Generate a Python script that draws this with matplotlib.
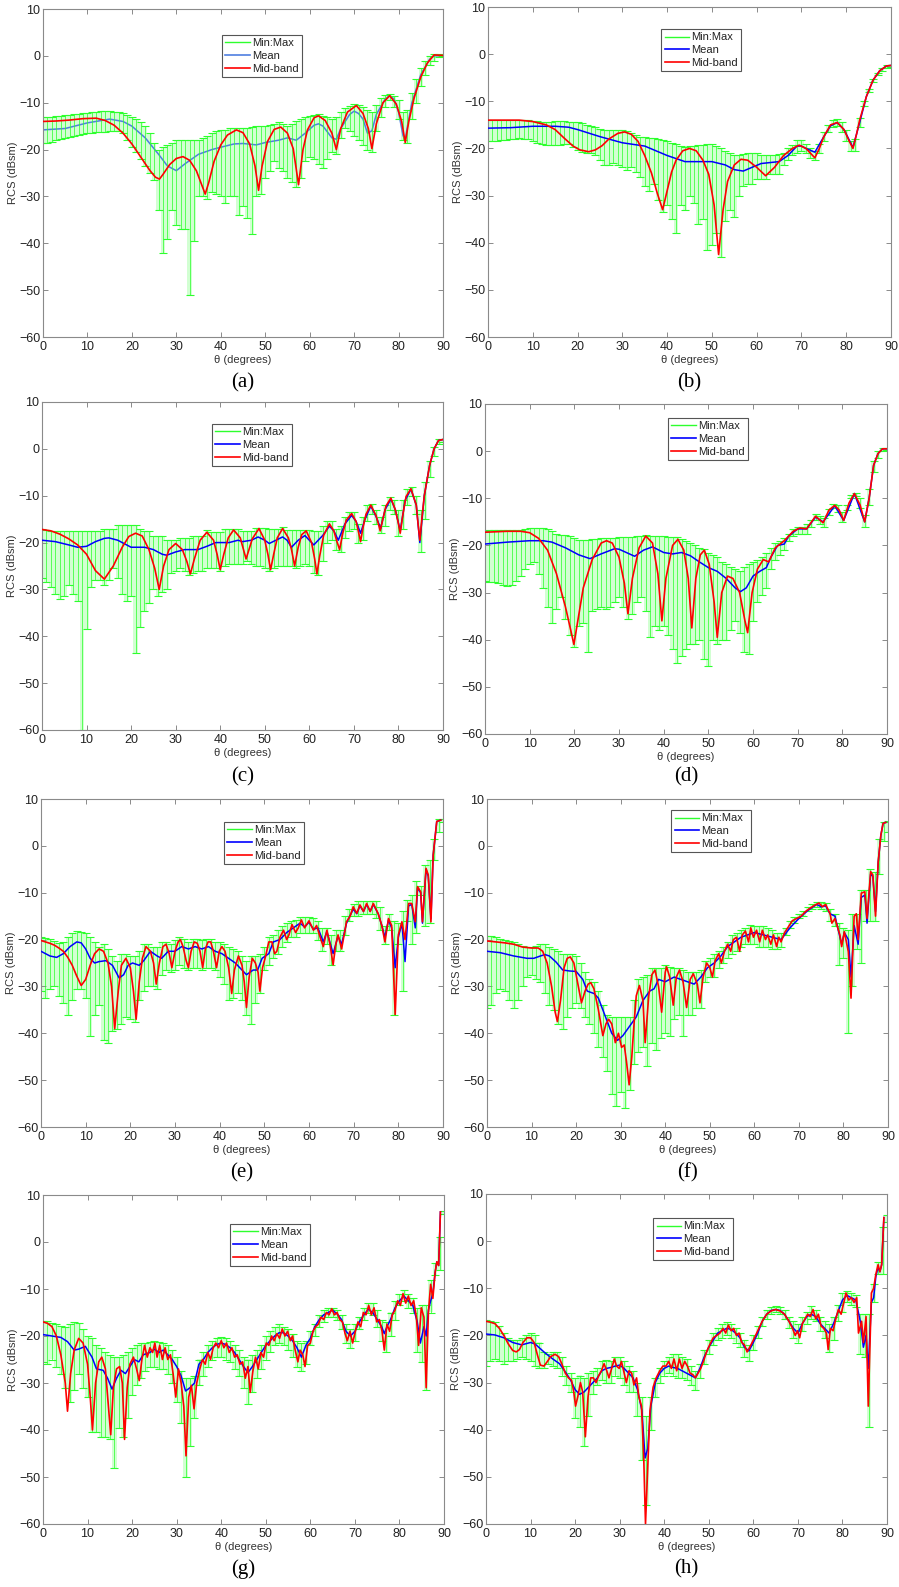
import numpy as np
import matplotlib.pyplot as plt
from matplotlib.lines import Line2D

plt.rcParams['font.family'] = ['Liberation Sans', 'DejaVu Sans']

# error bars: one per degree
theta_bars = np.arange(0, 91)

# ---------------- (a) ----------------
a_mid = [(0, -14.0), (3, -13.9), (6, -13.7), (9, -13.4), (12, -13.3), (14, -13.8), (16, -14.8),
         (18, -16.5), (20, -18.8), (22, -21.6), (24, -24.4), (25.3, -25.9), (26.2, -26.3), (27, -25.3),
         (28.5, -23.2), (30, -21.9), (31.5, -21.5), (33, -22.3), (34.5, -24.5), (35.7, -27.5),
         (36.5, -29.5), (37.3, -27.0), (38.5, -22.5), (40, -19.0), (41.5, -16.9), (43.5, -15.8),
         (45, -16.4), (46.5, -18.8), (47.7, -23.5), (48.5, -28.7), (49.3, -23.5), (50.5, -18.3),
         (52, -15.7), (53.5, -15.2), (55, -16.5), (56.3, -19.8), (57.5, -27.5), (58.5, -20.0),
         (59.5, -15.8), (61, -13.2), (62, -12.8), (63.5, -13.8), (65, -16.5), (66, -20.0), (67, -15.5),
         (68.5, -12.0), (70.5, -10.6), (72, -12.3), (73.2, -15.5), (74, -19.8), (75, -14.5), (76.5, -10.0),
         (78, -8.5), (79.5, -10.3), (80.7, -14.0), (81.5, -18.5), (82.3, -14.0), (83.5, -9.0), (85, -4.5),
         (86.5, -1.5), (88, 0.2), (90, 0.1)]
a_mean = [(0, -15.8), (5, -15.5), (10, -14.3), (15, -13.5), (18, -14.0), (20, -15.0), (23, -17.5),
          (26, -21.0), (28, -23.5), (30, -24.5), (32, -23.0), (35, -21.0), (38, -20.0), (40, -19.5),
          (43, -18.8), (45, -18.7), (48, -19.0), (50, -18.5), (53, -18.0), (55, -17.5), (57, -18.0),
          (59, -16.5), (61, -14.8), (62, -14.5), (63, -15.0), (65, -17.5), (66, -17.8), (67, -15.5),
          (69, -12.5), (70, -11.8), (71, -12.3), (72, -13.5), (73, -16.5), (74, -16.0), (75, -12.5),
          (77, -9.2), (78, -8.5), (79, -9.2), (80, -12.0), (81, -17.0), (81.5, -18.0), (82, -15.0),
          (83, -10.0), (85, -4.0), (87, -0.7), (88, 0.0), (90, 0.0)]
a_hi = [-13.0, -13.0, -13.0, -12.9, -12.8, -12.7, -12.6, -12.5, -12.4, -12.3,
        -12.2, -12.0, -11.9, -11.8, -11.8, -11.8, -11.9, -12.0, -12.2, -12.6,
        -13.0, -13.5, -14.2, -15.0, -16.5, -18.5, -20.0, -19.5, -19.0, -18.5,
        -18.0, -18.0, -18.0, -18.0, -18.0, -18.0, -17.5, -17.0, -16.5, -16.0,
        -15.8, -15.8, -15.5, -15.3, -15.3, -15.5, -15.5, -15.2, -15.0, -15.0,
        -15.0, -14.8, -14.5, -14.2, -14.5, -15.0, -14.5, -14.0, -13.5, -13.0,
        -12.8, -12.6, -12.5, -12.8, -13.0, -13.5, -13.0, -12.0, -11.2, -10.8,
        -10.3, -10.5, -11.0, -11.5, -12.0, -10.5, -9.0, -8.3, -8.2, -8.5,
        -9.5, -12.0, -11.5, -8.0, -5.0, -2.5, -1.0, 0.0, 0.3, 0.3,
        0.2]
a_lo = [-18.5, -18.5, -18.3, -18.0, -17.8, -17.6, -17.3, -17.0, -16.8, -16.6,
        -16.5, -16.4, -16.3, -16.2, -16.2, -16.1, -16.1, -16.0, -16.5, -18.0,
        -19.5, -20.5, -22.0, -23.5, -25.0, -26.5, -33.0, -42.0, -39.0, -33.0,
        -36.0, -37.0, -37.0, -51.0, -39.5, -30.0, -30.0, -30.5, -29.0, -29.5,
        -30.0, -31.5, -30.0, -30.0, -34.0, -32.0, -34.5, -38.0, -30.0, -29.5,
        -26.0, -24.5, -22.5, -24.0, -24.5, -26.0, -27.0, -28.0, -26.0, -22.5,
        -21.5, -22.0, -23.0, -24.0, -22.0, -20.5, -21.0, -17.5, -15.5, -16.0,
        -17.0, -18.0, -19.0, -20.0, -20.5, -16.0, -13.0, -11.0, -9.5, -11.0,
        -13.5, -18.0, -18.5, -13.5, -10.0, -6.5, -4.0, -2.0, -1.0, -0.3,
        0.0]

# ---------------- (b) ----------------
b_mid = [(0, -14.0), (4, -14.0), (7, -14.0), (10, -14.3), (13, -15.0), (15, -16.0), (17, -17.8),
         (19, -19.5), (20.5, -20.3), (22.5, -20.7), (24, -20.3), (25.5, -19.4), (27, -18.0), (29, -16.8),
         (30.5, -16.5), (32, -17.0), (33.5, -18.5), (35, -21.5), (36.5, -25.2), (37.8, -29.5), (39, -33.0),
         (40, -29.0), (41, -25.0), (42, -22.5), (43.5, -20.5), (45, -20.0), (46.5, -20.5), (48, -22.5),
         (49.3, -25.5), (50.5, -32.0), (51.5, -42.5), (52.5, -33.0), (53.5, -27.0), (55, -23.5),
         (56.5, -22.3), (58, -22.5), (60, -24.0), (62, -25.8), (64, -24.0), (66, -21.5), (68, -20.0),
         (69.5, -19.3), (71, -20.0), (73, -22.0), (74, -20.0), (75, -17.5), (76.5, -15.0), (78, -14.5),
         (79.5, -16.0), (80.7, -18.5), (81.5, -20.0), (82.3, -17.0), (83, -14.0), (84.5, -9.0),
         (86, -5.5), (87.5, -3.5), (89, -2.5), (90, -2.4)]
b_mean = [(0, -15.7), (5, -15.6), (10, -15.3), (15, -15.3), (18, -15.5), (20, -16.0), (25, -17.5),
          (30, -18.8), (35, -19.5), (40, -21.5), (44, -22.8), (48, -22.8), (50, -22.8), (53, -23.5),
          (55, -24.5), (57, -24.8), (59, -24.0), (61, -23.2), (63, -23.0), (65, -22.8), (67, -21.5),
          (69, -19.5), (70, -19.5), (71, -20.0), (73, -20.8), (75, -17.5), (76.5, -15.2), (78, -14.5),
          (79.5, -16.0), (81.5, -19.8), (83, -14.5), (84.5, -9.0), (86, -5.5), (87.5, -3.5), (89, -2.5),
          (90, -2.4)]
b_hi = [-13.9, -13.9, -13.9, -13.9, -13.9, -13.9, -13.9, -13.9, -13.9, -14.0,
        -14.1, -14.2, -14.3, -14.4, -14.3, -14.2, -14.2, -14.2, -14.3, -14.4,
        -14.5, -14.7, -15.0, -15.2, -15.5, -15.8, -16.0, -16.0, -16.0, -16.0,
        -16.0, -16.2, -16.8, -17.2, -17.5, -17.5, -17.7, -17.8, -18.0, -18.2,
        -18.5, -18.8, -19.0, -19.5, -19.6, -19.5, -19.4, -19.3, -19.2, -19.0,
        -19.0, -19.5, -20.0, -20.5, -21.0, -21.5, -21.5, -21.2, -21.0, -21.0,
        -21.0, -21.3, -21.5, -21.5, -21.5, -21.2, -21.0, -20.0, -19.2, -18.2,
        -18.2, -19.0, -20.0, -20.5, -19.0, -16.5, -15.0, -14.0, -13.8, -14.5,
        -16.0, -18.5, -18.0, -13.5, -10.0, -7.5, -5.2, -4.0, -3.0, -2.3,
        -2.3]
b_lo = [-18.5, -18.5, -18.4, -18.3, -18.2, -18.0, -17.9, -17.8, -17.9, -18.1,
        -18.4, -18.8, -19.0, -19.2, -19.3, -19.3, -19.2, -19.0, -19.0, -19.8,
        -20.3, -20.8, -21.0, -21.0, -21.5, -22.5, -23.5, -23.5, -23.0, -23.5,
        -24.0, -24.5, -24.0, -25.0, -26.0, -28.0, -29.0, -27.5, -31.0, -33.5,
        -32.0, -35.0, -38.0, -32.0, -33.0, -30.0, -31.5, -36.0, -35.0, -41.5,
        -40.5, -38.0, -43.0, -35.5, -33.0, -34.5, -30.0, -28.0, -27.5, -27.5,
        -26.5, -26.5, -26.5, -25.5, -25.5, -25.5, -23.5, -22.5, -21.5, -21.0,
        -20.5, -21.0, -22.0, -22.5, -21.0, -18.5, -16.5, -15.5, -15.2, -16.5,
        -18.5, -20.5, -20.5, -15.5, -11.0, -8.0, -6.0, -4.5, -3.5, -3.0,
        -2.8]

# ---------------- (c) ----------------
c_mid = [(0, -17.2), (2, -17.5), (4, -18.2), (6, -19.2), (8, -20.5), (10, -22.5), (12, -26.0),
         (14, -27.8), (16, -25.0), (18, -21.0), (19.5, -18.7), (21, -18.0), (22.5, -18.6), (24, -21.5),
         (25.3, -25.5), (26.3, -30.0), (27.3, -25.0), (28.5, -21.5), (30, -20.2), (31.5, -21.5),
         (32.5, -24.0), (33.3, -26.7), (34.2, -23.5), (35.5, -19.5), (37, -17.8), (38.5, -19.5),
         (39.3, -22.5), (40, -25.8), (40.8, -22.5), (41.8, -19.0), (43, -17.3), (44.5, -19.0),
         (45.8, -23.5), (47.2, -19.2), (48.7, -17.0), (50, -19.5), (50.7, -22.5), (51.3, -25.8),
         (52, -22.5), (52.8, -19.0), (54, -17.0), (55.3, -19.0), (56, -21.5), (56.7, -25.0), (57.5, -21.0),
         (58.3, -18.3), (59.3, -17.5), (60.5, -20.0), (61.2, -23.5), (61.7, -26.7), (62.3, -23.0),
         (63.2, -18.5), (64.5, -16.0), (65.5, -17.5), (66.2, -19.8), (66.8, -21.5), (67.5, -18.0),
         (68.3, -15.2), (69.5, -13.8), (70.5, -15.5), (71.1, -18.0), (71.5, -19.8), (72, -17.0),
         (72.7, -14.0), (73.8, -12.0), (75, -14.3), (75.5, -16.0), (75.9, -17.5), (76.5, -15.0),
         (77.2, -12.2), (78.3, -10.5), (79.3, -13.0), (79.9, -15.5), (80.4, -18.0), (81, -14.0),
         (81.7, -10.2), (82.8, -8.5), (84, -12.0), (84.4, -16.0), (84.8, -19.5), (85.3, -14.5),
         (85.8, -10.0), (87, -3.5), (88, 0.0), (89, 1.8), (90, 2.0)]
c_mean = [(0, -19.5), (3, -19.8), (6, -20.5), (8, -21.0), (10, -20.8), (12, -19.8), (14, -19.1),
          (15, -19.0), (17, -19.5), (19, -20.5), (20, -21.0), (23, -21.0), (25, -21.5), (27, -22.5),
          (28, -22.7), (30, -22.0), (32, -21.5), (35, -21.5), (37, -20.8), (39, -20.0), (42, -20.0),
          (44, -19.5), (45, -19.8), (47, -19.5), (48.5, -18.8), (50, -19.5), (51, -20.2), (52.5, -19.5),
          (54, -18.8), (55, -19.5), (56, -21.0), (57.5, -19.5), (59, -18.5), (60, -19.5), (61, -20.5),
          (63, -18.5), (64.5, -16.5), (65.5, -17.5), (66.5, -19.5), (68, -16.0), (69.5, -14.2),
          (70.5, -15.5), (71.5, -18.0), (72.5, -15.0), (73.8, -12.2), (75, -14.5), (76, -17.0),
          (77, -13.0), (78.3, -10.7), (79.3, -13.0), (80.4, -17.5), (81.5, -11.0), (82.8, -8.6),
          (84, -12.0), (84.8, -20.0), (85.8, -10.0), (87, -3.5), (88, 0.0), (89, 1.8), (90, 2.0)]
c_hi = [-17.0, -17.3, -17.5, -17.6, -17.6, -17.6, -17.6, -17.6, -17.6, -17.6,
        -17.5, -17.5, -17.5, -17.5, -17.0, -17.0, -17.0, -16.3, -16.3, -16.3,
        -16.3, -16.3, -17.0, -17.5, -17.5, -18.5, -18.5, -18.5, -19.5, -19.5,
        -19.5, -19.0, -19.0, -19.0, -18.5, -18.5, -18.5, -17.3, -17.8, -17.8,
        -17.8, -17.2, -17.2, -17.2, -17.2, -17.5, -17.5, -17.5, -16.8, -16.8,
        -16.8, -17.0, -17.0, -17.0, -16.7, -17.3, -17.3, -17.3, -17.3, -17.3,
        -17.3, -17.5, -17.5, -16.5, -15.5, -15.5, -17.0, -16.5, -14.5, -13.5,
        -13.5, -16.0, -14.5, -12.0, -11.8, -13.0, -14.5, -12.0, -10.2, -11.0,
        -13.0, -11.0, -8.5, -8.2, -10.0, -13.0, -7.0, -2.5, 0.5, 2.0,
        2.2]
c_lo = [-27.5, -28.5, -29.5, -31.0, -32.0, -31.5, -29.0, -31.0, -32.5, -60.0,
        -38.5, -29.5, -28.0, -28.0, -29.0, -28.0, -25.5, -27.5, -31.0, -32.5,
        -31.5, -43.5, -38.0, -34.5, -33.0, -30.0, -31.5, -30.5, -30.0, -26.5,
        -26.0, -25.5, -26.0, -27.0, -26.5, -26.0, -26.0, -25.5, -25.5, -25.5,
        -26.0, -25.0, -24.5, -24.5, -24.5, -24.5, -24.0, -24.5, -25.0, -25.0,
        -25.5, -26.0, -25.5, -25.0, -25.0, -25.0, -25.0, -25.5, -25.0, -24.5,
        -25.0, -26.5, -27.0, -24.0, -20.0, -19.5, -21.5, -22.0, -19.0, -17.5,
        -17.0, -20.0, -19.5, -15.5, -14.0, -16.0, -18.0, -16.5, -13.0, -14.0,
        -18.5, -17.0, -12.0, -10.0, -14.0, -22.0, -15.0, -6.0, -1.5, 1.0,
        1.5]

# ---------------- (d) ----------------
d_mid = [(0, -17.2), (5, -17.0), (8, -17.0), (10, -17.3), (12, -18.5), (14, -21.0), (16, -26.0),
         (18, -33.0), (19.2, -38.0), (19.9, -41.0), (20.6, -37.0), (22, -29.0), (24, -23.0), (26, -19.5),
         (27.2, -19.0), (28.5, -19.5), (30, -22.5), (31.2, -28.0), (32, -34.5), (33, -27.0), (34.5, -20.5),
         (36, -18.0), (37.5, -19.5), (38.7, -26.0), (39.6, -36.0), (40.5, -27.0), (42, -20.0),
         (43.2, -18.7), (44.5, -21.0), (45.5, -27.0), (46.3, -37.5), (47.2, -27.0), (48.2, -22.0),
         (49.1, -21.0), (50.2, -24.0), (51.3, -32.0), (52, -39.5), (53, -30.0), (54.3, -26.5),
         (55.5, -27.0), (57, -30.0), (58.2, -36.0), (58.8, -38.5), (59.8, -30.0), (61, -25.0),
         (62.3, -23.0), (63.5, -23.5), (65, -20.5), (67, -19.0), (69, -17.0), (70.5, -16.3), (72, -16.5),
         (74, -13.8), (75.7, -15.2), (77, -12.5), (78.3, -11.5), (79.3, -12.5), (80.3, -14.7), (81.5, -11.0),
         (82.7, -9.0), (84, -11.5), (85, -15.0), (86, -10.0), (87, -3.0), (88, -0.5), (89, 0.5), (90, 0.5)]
d_mean = [(0, -19.7), (5, -19.3), (10, -19.0), (13, -19.0), (15, -19.3), (18, -20.5), (21, -22.0),
          (23.5, -22.8), (26, -21.8), (29, -20.7), (30, -20.8), (33.5, -22.3), (35.5, -21.0), (37.5, -20.3),
          (40, -21.5), (42, -21.8), (44, -21.5), (46, -22.2), (48, -23.5), (50, -24.7), (52, -25.5),
          (54, -27.0), (56, -29.0), (57.2, -29.8), (58.5, -29.0), (60, -26.5), (61.5, -25.5), (63, -24.7),
          (64, -22.5), (65.5, -20.0), (67, -19.7), (68, -18.0), (70, -16.5), (72, -16.5), (74, -14.0),
          (75.7, -15.0), (78.3, -11.6), (80.3, -14.7), (82.7, -9.0), (85, -15.0), (86, -10.0), (87, -3.0),
          (88, -0.5), (89, 0.5), (90, 0.5)]
d_hi = [-16.9, -16.8, -16.8, -16.8, -16.8, -16.8, -16.8, -16.8, -16.8, -16.6,
        -16.4, -16.3, -16.2, -16.3, -16.5, -17.0, -17.5, -17.8, -17.8, -18.0,
        -18.5, -18.8, -18.8, -18.8, -18.7, -18.6, -18.5, -18.5, -18.5, -18.5,
        -18.3, -18.2, -18.2, -18.2, -18.0, -18.0, -17.8, -18.0, -18.0, -18.0,
        -18.0, -18.2, -18.2, -18.3, -18.7, -19.0, -19.5, -20.0, -20.5, -20.8,
        -21.5, -22.0, -22.5, -23.5, -24.0, -24.5, -25.0, -25.5, -24.5, -24.0,
        -23.5, -23.0, -22.5, -21.5, -20.5, -19.5, -19.0, -18.5, -17.5, -16.5,
        -16.0, -16.0, -15.5, -14.5, -13.3, -13.8, -14.2, -12.2, -11.2, -11.5,
        -13.0, -11.5, -9.2, -8.8, -10.0, -13.5, -8.0, -2.0, 0.0, 0.7,
        0.7]
d_lo = [-27.5, -27.7, -27.8, -28.0, -28.3, -28.5, -28.3, -27.5, -26.5, -25.0,
        -24.0, -23.5, -26.0, -29.0, -33.0, -36.5, -33.5, -31.0, -35.5, -39.0,
        -41.5, -37.0, -36.5, -42.5, -34.0, -33.5, -33.0, -33.5, -33.0, -32.0,
        -31.0, -33.0, -35.5, -34.5, -32.0, -31.0, -34.0, -39.5, -37.0, -38.0,
        -37.0, -39.0, -42.0, -45.0, -43.5, -42.0, -41.0, -41.0, -40.0, -44.0,
        -45.5, -40.0, -41.0, -40.0, -40.0, -38.0, -36.0, -38.5, -42.5, -43.0,
        -36.0, -32.0, -30.5, -29.0, -25.0, -23.0, -22.0, -21.0, -19.0, -18.0,
        -17.5, -17.5, -17.5, -16.0, -14.5, -15.5, -16.0, -13.5, -12.0, -13.0,
        -15.0, -12.5, -10.0, -9.5, -12.0, -16.0, -11.5, -4.5, -1.5, 0.0,
        0.3]

# ---------------- (e) ----------------
e_mid = [(0, -20.2), (1, -20.5), (2, -20.8), (3, -21.2), (4, -21.8), (5, -22.5), (6, -23.8), (7, -25.5),
         (8, -27.8), (9, -29.8), (10, -28.5), (11, -25.5), (12, -23.0), (13, -22.0), (14, -22.5), (15, -25.0),
         (15.8, -30.0), (16.5, -39.0), (17.3, -31.0), (18, -25.5), (19, -24.0), (20, -26.0), (20.7, -31.0),
         (21.3, -37.0), (22, -29.0), (22.7, -24.0), (23.5, -21.5), (24.5, -22.5), (25.2, -25.0),
         (25.8, -29.5), (26.5, -25.0), (27.3, -21.5), (28, -21.0), (28.7, -23.0), (29.3, -26.0),
         (30, -22.5), (30.7, -20.5), (31.2, -20.0), (31.8, -21.5), (32.5, -24.5), (33, -26.0),
         (33.6, -22.5), (34.3, -20.5), (35, -20.8), (35.6, -22.5), (36.2, -26.0), (36.8, -22.0),
         (37.4, -20.5), (38, -20.5), (38.6, -22.5), (39.3, -26.0), (39.9, -22.5), (40.5, -21.5),
         (41.2, -22.5), (42, -26.0), (42.7, -31.5), (43.3, -26.5), (44.2, -23.5), (45, -25.5),
         (45.5, -29.0), (46, -34.5), (46.6, -28.0), (47.3, -24.0), (48, -25.0), (48.6, -27.0), (49, -31.0),
         (49.6, -26.0), (50.3, -23.5), (51, -20.5), (51.7, -20.5), (52.3, -23.0), (52.8, -22.5),
         (53.5, -19.5), (54.3, -18.0), (55, -20.0), (55.5, -19.0), (56.2, -16.8), (57, -18.5),
         (57.6, -17.5), (58.3, -15.8), (59, -17.5), (60, -16.0), (61, -18.0), (61.7, -17.0), (62.5, -19.5),
         (63.2, -21.5), (64, -18.0), (64.7, -21.0), (65.4, -25.4), (66, -21.0), (66.5, -19.0),
         (67.3, -22.0), (68.4, -16.2), (69.2, -15.0), (69.9, -13.0), (70.7, -14.4), (71.4, -12.6),
         (72.2, -14.0), (72.9, -12.3), (73.7, -14.0), (74.4, -12.3), (75.5, -14.5), (76.3, -17.0),
         (77, -20.5), (77.8, -15.5), (78.5, -17.0), (79.3, -36.0), (80, -19.0), (80.8, -16.2),
         (81.5, -20.0), (82.3, -12.3), (83, -12.3), (83.8, -16.2), (84.3, -8.7), (85, -9.8), (85.4, -16.2),
         (86.2, -4.8), (86.7, -6.2), (87.3, -16.2), (87.8, -2.0), (88.6, 5.2), (89.5, 5.5)]
e_mean = [(0, -22.5), (1, -23.0), (2, -23.5), (3.5, -23.8), (5, -23.0), (6.5, -21.5), (8, -20.5),
          (9, -20.7), (10, -22.0), (11, -24.0), (12, -25.0), (13, -24.7), (14.5, -24.5), (16, -25.5),
          (17.5, -28.2), (18.5, -27.5), (19.5, -25.5), (20.5, -25.0), (22, -25.5), (23, -24.5),
          (24.5, -22.5), (26, -23.5), (27, -24.0), (28.5, -22.5), (30, -22.5), (31.5, -21.5), (33, -22.0),
          (34.5, -21.5), (36, -22.0), (37.5, -21.5), (39, -22.5), (40.5, -23.0), (42, -24.0), (43.5, -25.0),
          (45, -26.5), (46, -27.5), (47.5, -26.5), (48.5, -26.5), (49.5, -24.0), (51, -23.0), (52, -20.5),
          (53.5, -20.0), (55, -18.5), (56.5, -17.5), (58, -16.5), (59, -17.3), (60, -16.3), (61, -17.8),
          (62, -17.5), (63.2, -20.5), (64, -18.3), (65.4, -23.0), (66.5, -19.3), (67.3, -21.0),
          (68.4, -16.5), (69.9, -13.5), (70.7, -14.5), (71.4, -12.8), (72.2, -14.0), (72.9, -12.5),
          (73.7, -14.0), (74.4, -12.5), (75.5, -14.5), (76.3, -17.0), (77, -19.5), (77.8, -15.8),
          (78.5, -17.5), (79.3, -26.0), (80, -19.5), (80.8, -16.5), (81.5, -24.7), (82.3, -12.8),
          (83, -12.5), (83.8, -17.5), (84.3, -9.0), (85, -10.0), (85.4, -16.5), (86.2, -5.0), (86.7, -6.5),
          (87.3, -15.5), (87.8, -2.0), (88.6, 5.2), (89.5, 5.5)]
e_hi = [-19.5, -19.6, -19.8, -20.2, -20.8, -20.5, -19.5, -18.5, -18.2, -18.3,
        -18.5, -19.5, -20.5, -21.5, -21.0, -22.0, -23.5, -24.5, -23.0, -23.0,
        -23.5, -23.5, -22.5, -21.0, -21.0, -21.5, -21.5, -20.5, -20.5, -21.0,
        -20.0, -19.5, -19.8, -20.5, -19.8, -19.8, -20.0, -19.8, -19.8, -20.5,
        -20.5, -21.0, -21.5, -22.0, -22.5, -23.5, -24.5, -23.5, -23.5, -23.0,
        -21.5, -19.5, -19.0, -18.0, -17.0, -16.5, -16.0, -15.8, -15.2, -15.2,
        -15.2, -15.5, -16.0, -17.5, -17.5, -19.0, -18.0, -18.0, -15.0, -13.5,
        -12.5, -11.8, -11.8, -11.8, -11.8, -11.8, -13.0, -17.0, -14.5, -16.0,
        -16.5, -14.0, -11.5, -10.5, -7.5, -8.5, -4.0, -3.0, 1.5, 5.7,
        5.7]
e_lo = [-31.0, -32.5, -30.5, -30.0, -32.0, -33.5, -36.0, -33.0, -30.5, -30.5,
        -32.5, -40.5, -36.0, -34.0, -41.5, -42.0, -39.5, -39.0, -38.0, -36.5,
        -37.0, -37.5, -33.0, -31.0, -30.0, -30.0, -30.5, -27.5, -26.5, -27.0,
        -26.5, -25.5, -26.0, -26.5, -26.0, -26.0, -26.5, -26.0, -26.0, -26.5,
        -28.0, -29.5, -33.0, -32.5, -31.5, -33.0, -36.0, -38.0, -33.5, -31.5,
        -26.5, -25.5, -24.0, -23.0, -21.5, -20.5, -19.5, -19.5, -18.5, -18.5,
        -18.5, -18.5, -20.0, -22.5, -21.0, -25.5, -22.5, -22.5, -19.0, -16.0,
        -15.0, -15.0, -14.5, -14.5, -14.5, -15.5, -18.0, -21.0, -18.0, -36.0,
        -21.0, -31.0, -16.0, -21.0, -18.5, -10.5, -17.0, -16.5, -3.0, 3.0,
        5.0]

# ---------------- (f) ----------------
f_mid = [(0, -20.3), (2, -20.5), (4, -20.7), (6, -21.0), (8, -21.6), (10, -21.8), (11.5, -21.8),
         (12.5, -22.5), (13.5, -25.0), (14.5, -30.0), (15.3, -35.5), (15.8, -37.5), (16.5, -33.0),
         (17.3, -26.0), (18, -24.0), (18.7, -23.7), (19.5, -25.0), (20.3, -29.0), (21.2, -33.5), (22, -31.0),
         (22.7, -29.5), (23.3, -29.2), (24, -30.5), (25, -35.0), (26, -40.5), (26.7, -38.0), (27.3, -37.0),
         (28, -38.0), (28.8, -42.0), (29.5, -40.0), (30.2, -43.0), (30.8, -42.5), (31.3, -46.0),
         (31.9, -51.0), (32.5, -45.0), (33, -38.0), (33.5, -32.0), (34.2, -29.8), (35, -33.0), (35.5, -42.0),
         (36.3, -32.0), (37, -27.5), (37.7, -26.5), (38.5, -30.0), (39.2, -35.5), (40, -27.0), (40.3, -25.8),
         (41, -28.0), (41.8, -34.0), (42.5, -28.0), (43.2, -26.5), (44, -29.0), (44.8, -34.5), (45.6, -28.5),
         (46.3, -27.3), (47.2, -29.5), (47.8, -33.5), (48.5, -28.0), (49.3, -25.0), (50, -26.0),
         (50.6, -28.0), (51.2, -24.5), (52, -23.0), (52.6, -25.0), (53.3, -22.5), (54, -21.0), (54.7, -22.5),
         (55.3, -20.0), (56, -19.5), (56.7, -22.5), (57.3, -19.0), (58, -18.2), (58.7, -20.5), (59.2, -17.5),
         (59.8, -19.5), (60.5, -18.0), (61.2, -20.5), (61.8, -18.0), (62.5, -20.0), (63, -19.0),
         (63.7, -21.0), (64.3, -19.0), (65, -21.5), (65.5, -19.5), (66, -20.5), (66.8, -18.5), (67.5, -17.5),
         (68.5, -16.0), (69.5, -15.5), (70.5, -15.0), (71.5, -14.0), (72.5, -13.3), (73.5, -12.7),
         (74.5, -12.2), (75.3, -13.0), (76, -12.5), (77, -14.5), (77.4, -16.5), (78.1, -15.5), (79.2, -19.0),
         (79.6, -21.5), (80.2, -18.3), (81.1, -22.6), (81.7, -32.5), (82.4, -15.0), (82.9, -14.5),
         (83.3, -20.0), (84, -10.1), (84.8, -9.8), (85.3, -15.5), (86.1, -5.5), (86.6, -6.2), (87.2, -15.0),
         (87.8, -3.4), (88.4, 2.3), (88.9, 4.8), (89.5, 5.0)]
f_mean = [(0, -22.5), (3, -22.8), (6, -23.5), (9, -24.0), (10.5, -24.0), (12, -23.5), (13, -23.2),
          (14, -23.5), (15.5, -24.8), (17, -26.5), (18.5, -26.7), (20, -26.8), (21.5, -28.5), (22.5, -31.0),
          (24, -31.5), (25, -32.5), (26, -35.0), (27, -37.5), (28, -40.0), (29.3, -41.5), (30.5, -40.5),
          (32, -38.5), (33.5, -36.5), (35, -33.0), (36.5, -31.0), (37.5, -30.5), (38.5, -28.5), (40, -29.0),
          (41, -28.5), (42, -28.0), (43.5, -28.5), (45, -29.0), (46.5, -29.5), (48, -28.0), (49.5, -26.0),
          (51, -25.0), (52.5, -23.5), (54, -21.5), (55.5, -20.5), (57, -19.5), (58.5, -19.0), (60, -18.5),
          (62, -19.0), (64, -19.5), (66, -20.0), (68, -17.5), (70, -15.5), (72, -13.8), (74, -12.5),
          (75, -13.0), (76, -12.8), (77, -14.5), (78.1, -15.0), (79.6, -21.0), (80.2, -18.5), (81.1, -20.0),
          (81.7, -28.0), (82.4, -17.0), (83.3, -21.0), (84, -11.0), (84.8, -10.5), (85.3, -16.5),
          (86.1, -6.0), (86.6, -6.5), (87.2, -14.0), (87.8, -3.5), (88.4, 2.3), (88.9, 4.8), (89.5, 5.0)]
f_hi = [-19.2, -19.3, -19.5, -19.8, -20.0, -20.2, -20.5, -21.0, -21.3, -21.5,
        -21.5, -21.3, -21.0, -21.0, -21.5, -22.0, -22.5, -23.0, -23.0, -23.0,
        -23.5, -25.0, -27.0, -28.5, -29.0, -31.0, -34.0, -36.0, -36.5, -36.5,
        -36.5, -36.5, -36.5, -33.0, -28.5, -28.0, -27.5, -26.0, -26.0, -26.0,
        -25.5, -25.8, -26.0, -26.0, -26.5, -27.0, -27.0, -27.0, -26.5, -24.5,
        -24.0, -23.0, -22.5, -21.5, -20.5, -19.0, -18.5, -18.0, -17.5, -16.8,
        -17.0, -17.0, -17.2, -17.5, -18.0, -18.5, -18.5, -17.5, -16.0, -15.2,
        -14.5, -13.8, -13.0, -12.5, -12.0, -12.0, -12.2, -13.5, -14.5, -16.5,
        -17.5, -18.0, -14.5, -14.5, -9.5, -9.5, -5.0, -5.5, 1.5, 5.0,
        5.3]
f_lo = [-34.5, -34.0, -31.5, -30.5, -31.0, -33.0, -34.5, -33.0, -30.0, -28.0,
        -27.5, -28.5, -29.0, -31.5, -34.0, -35.0, -38.0, -39.0, -36.5, -34.5,
        -33.5, -34.5, -36.5, -38.0, -40.0, -43.0, -45.0, -48.0, -53.0, -55.5,
        -52.5, -56.0, -52.0, -46.5, -44.0, -43.0, -47.0, -42.0, -43.5, -41.0,
        -40.0, -40.5, -37.0, -36.0, -40.5, -36.0, -36.0, -34.5, -34.5, -29.0,
        -28.0, -28.0, -26.0, -25.0, -24.0, -23.0, -22.5, -21.5, -21.0, -21.0,
        -21.0, -21.5, -21.5, -21.5, -22.0, -22.0, -21.5, -19.0, -17.5, -16.5,
        -15.5, -15.0, -14.0, -13.5, -13.0, -13.5, -14.0, -16.0, -17.0, -25.5,
        -24.0, -40.0, -30.0, -22.0, -25.0, -16.0, -16.0, -16.0, -6.0, 1.0,
        3.0]

# ---------------- (g) ----------------
g_mid = [(0, -17.0), (1, -17.3), (2, -18.0), (3, -20.0), (4, -24.0), (5, -30.0), (5.5, -36.0), (6.2, -28.0),
         (7, -23.0), (8, -20.5), (9, -21.5), (10, -26.0), (10.6, -33.0), (11.1, -40.0), (11.8, -30.0),
         (12.5, -25.5), (13.2, -24.5), (14, -27.0), (14.7, -35.0), (15.2, -41.0), (15.8, -31.0), (16.5, -27.0),
         (17.2, -26.5), (17.8, -30.0), (18.3, -42.0), (18.9, -31.0), (19.5, -26.0), (20.3, -24.5), (21, -27.0),
         (21.6, -29.5), (22.2, -25.0), (22.8, -22.0), (23.4, -24.5), (24, -22.5), (24.6, -23.5), (25.1, -21.5),
         (25.6, -24.5), (26.2, -22.0), (26.8, -25.0), (27.4, -22.5), (28, -25.0), (28.6, -24.0), (29.2, -28.0),
         (29.8, -33.0), (30.4, -27.0), (31, -30.0), (31.6, -35.0), (32.1, -45.5), (32.7, -33.0), (33.3, -30.5),
         (33.9, -35.5), (34.5, -30.0), (35.2, -27.0), (35.8, -25.0), (36.4, -26.0), (37, -23.5), (37.6, -25.0),
         (38.2, -22.5), (38.8, -21.5), (39.4, -22.5), (40, -21.0), (40.6, -22.5), (41.2, -21.5), (41.8, -23.5),
         (42.4, -22.5), (43, -24.5), (43.6, -24.0), (44.2, -26.0), (44.8, -25.5), (45.4, -29.0), (46, -26.5),
         (46.5, -32.0), (47.1, -27.5), (47.7, -24.5), (48.3, -27.0), (48.9, -23.5), (49.5, -24.5),
         (50.1, -21.5), (50.7, -22.0), (51.3, -20.0), (51.9, -21.0), (52.5, -19.5), (53.1, -20.5),
         (53.7, -18.5), (54.3, -20.0), (54.9, -19.0), (55.5, -21.0), (56, -20.0), (56.6, -23.0), (57.2, -25.5),
         (57.7, -23.0), (58.3, -24.0), (58.8, -26.5), (59.4, -22.0), (60, -21.5), (60.6, -19.0), (61.2, -18.0),
         (61.8, -17.5), (62.4, -16.0), (63, -16.5), (63.6, -15.0), (64.2, -15.5), (64.8, -14.2), (65.4, -15.5),
         (66, -15.0), (66.6, -16.5), (67.2, -17.0), (67.8, -19.5), (68.3, -21.0), (68.9, -19.0), (69.5, -21.5),
         (70.1, -19.0), (70.7, -17.0), (71.3, -18.0), (71.9, -15.0), (72.5, -15.5), (73.1, -13.5),
         (73.7, -15.5), (74.3, -14.0), (74.9, -17.0), (75.5, -16.5), (76.1, -19.0), (76.6, -23.0),
         (77.2, -17.5), (77.8, -19.0), (78.4, -15.5), (79, -14.5), (79.6, -12.5), (80.2, -13.5), (80.8, -11.0),
         (81.4, -13.0), (82, -11.5), (82.6, -13.5), (83.2, -12.5), (83.8, -16.0), (84.3, -22.0), (84.9, -14.0),
         (85.5, -16.0), (86, -31.0), (86.5, -15.0), (87, -9.0), (87.5, -12.0), (88, -6.5), (88.4, -4.2),
         (88.8, -5.0), (89.2, 6.4)]
g_mean = [(0, -19.7), (2, -20.0), (4, -20.3), (5.5, -21.2), (7, -23.0), (8, -22.8), (9.5, -22.2), (11, -24.5),
          (12, -27.0), (13.5, -27.3), (14.5, -29.0), (15.5, -31.3), (16.5, -29.0), (17.5, -27.3), (18.5, -28.0),
          (19.5, -26.5), (20.5, -25.0), (21.5, -25.5), (22.5, -24.0), (24, -23.5), (25, -22.8), (26, -23.5),
          (27, -23.0), (28, -24.0), (29, -25.0), (30, -26.5), (31, -28.5), (32, -31.7), (33, -31.0), (34, -30.0),
          (35, -26.0), (36, -25.0), (37, -23.5), (38, -22.5), (39, -21.8), (40, -21.5), (41, -21.8), (42, -22.5),
          (43, -23.5), (44, -25.0), (45, -26.5), (46, -27.8), (47, -26.5), (48, -25.0), (49, -23.5), (50, -22.0),
          (51, -21.0), (52, -20.0), (53, -19.3), (54, -19.3), (55, -20.0), (56, -21.0), (57, -22.5), (58, -24.5),
          (59, -22.0), (60, -20.5), (61, -18.0), (62, -16.5), (63, -15.5), (64, -15.0), (65, -14.5), (66, -15.3),
          (67, -16.5), (68, -19.0), (69, -20.0), (70, -19.0), (71, -17.0), (72, -15.5), (73, -14.3), (74, -15.0),
          (75, -16.5), (76, -18.0), (76.6, -19.5), (77.2, -18.0), (78, -16.5), (79, -14.0), (80, -12.5),
          (81, -11.5), (82, -12.5), (83, -13.5), (84, -17.0), (84.7, -21.5), (85.5, -18.0), (86, -20.0),
          (86.5, -14.5), (87, -12.5), (87.5, -11.0), (88, -6.5), (88.4, -4.2), (88.8, -5.0), (89.2, 6.4)]
g_hi = [-16.8, -16.8, -17.2, -17.5, -17.8, -18.0, -17.5, -17.0, -17.3, -18.5,
        -20.0, -20.5, -22.0, -22.5, -23.5, -24.0, -24.5, -24.5, -24.0, -23.5,
        -22.5, -22.0, -21.5, -21.5, -21.3, -21.0, -21.3, -21.5, -22.0, -23.0,
        -24.5, -27.5, -29.0, -29.0, -28.5, -25.0, -23.5, -22.0, -21.0, -20.5,
        -20.3, -20.5, -21.0, -22.0, -23.0, -24.5, -25.0, -24.0, -23.0, -22.0,
        -20.0, -19.0, -18.0, -17.5, -18.0, -18.5, -19.5, -21.0, -21.5, -21.0,
        -19.0, -17.5, -15.5, -14.5, -14.0, -14.0, -14.5, -15.5, -17.5, -18.5,
        -17.5, -16.0, -14.0, -13.0, -13.0, -14.5, -16.5, -17.0, -15.0, -12.5,
        -11.0, -10.3, -11.0, -12.0, -14.0, -13.5, -13.5, -8.0, -4.5, 1.0,
        6.7]
g_lo = [-25.5, -26.0, -25.0, -26.5, -28.0, -31.0, -34.0, -31.5, -28.0, -31.0,
        -33.0, -40.5, -40.5, -41.5, -41.5, -42.0, -48.0, -39.5, -41.5, -37.5,
        -32.5, -30.5, -29.0, -27.5, -26.5, -26.5, -27.0, -27.0, -28.0, -30.0,
        -34.0, -38.5, -50.0, -43.5, -37.5, -30.5, -28.5, -26.5, -25.0, -24.5,
        -24.5, -25.0, -25.5, -27.0, -28.5, -31.0, -34.5, -32.0, -29.0, -27.0,
        -25.0, -23.5, -22.0, -21.5, -22.0, -23.0, -24.5, -26.5, -27.5, -26.0,
        -22.0, -20.0, -18.0, -17.0, -16.0, -16.0, -16.5, -18.5, -21.5, -22.5,
        -21.0, -18.5, -16.5, -15.0, -15.5, -18.0, -21.0, -23.5, -20.0, -16.5,
        -13.5, -12.5, -14.0, -15.0, -23.5, -25.5, -31.5, -15.0, -7.0, -6.0,
        6.0]

# ---------------- (h) ----------------
h_mid = [(0, -17.0), (1, -17.2), (2, -17.5), (3, -18.5), (4, -20.0), (5, -21.8), (6, -23.2), (6.8, -23.5),
         (7.5, -23.0), (8.3, -21.5), (9.2, -20.5), (10, -20.5), (10.8, -21.5), (11.5, -24.0), (12.2, -26.3),
         (13, -26.5), (13.8, -25.5), (14.5, -24.5), (15.5, -24.0), (16.3, -24.5), (17, -26.0), (17.8, -28.0),
         (18.5, -29.0), (19.2, -29.5), (19.7, -32.0), (20.1, -35.0), (20.6, -33.0), (21.2, -30.0),
         (21.7, -32.0), (22.3, -41.5), (22.9, -33.0), (23.5, -29.0), (24.1, -29.0), (24.7, -30.0),
         (25.3, -28.5), (25.9, -27.5), (26.5, -26.0), (27.1, -27.5), (27.6, -29.0), (28.2, -27.0),
         (28.8, -25.0), (29.3, -26.5), (29.9, -27.0), (30.4, -25.5), (31, -28.0), (31.5, -30.0), (32.1, -27.5),
         (32.7, -28.0), (33.2, -30.5), (33.8, -29.0), (34.3, -33.0), (34.9, -35.0), (35.4, -46.0),
         (35.8, -60.0), (36.3, -48.0), (36.8, -36.0), (37.5, -31.0), (38.2, -29.0), (39, -27.5), (39.7, -26.5),
         (40.4, -26.5), (41, -25.5), (41.6, -27.0), (42.2, -25.0), (42.8, -27.5), (43.4, -25.0), (44, -27.0),
         (44.6, -25.5), (45.2, -26.5), (45.8, -28.0), (46.4, -28.3), (47, -29.0), (47.6, -28.0), (48.2, -27.0),
         (48.8, -25.5), (49.5, -23.5), (50.2, -22.0), (51, -20.5), (51.8, -20.0), (52.5, -19.5), (53.2, -18.5),
         (53.8, -19.5), (54.4, -17.8), (55, -19.0), (55.6, -18.5), (56.2, -20.0), (56.8, -19.5), (57.4, -21.5),
         (58, -22.0), (58.6, -23.5), (59.2, -22.5), (60, -21.0), (61, -19.0), (62, -17.0), (63, -15.5),
         (64, -14.8), (65, -14.5), (66, -14.8), (67, -15.5), (68, -17.0), (68.8, -18.5), (69.4, -20.0),
         (69.9, -19.0), (70.4, -20.5), (71, -17.5), (71.6, -16.5), (72.2, -15.5), (72.8, -16.0), (73.4, -14.5),
         (74, -16.5), (74.6, -15.5), (75.2, -18.0), (75.8, -18.5), (76.4, -19.5), (76.8, -23.0), (77.3, -18.5),
         (77.9, -19.0), (78.5, -16.5), (79.1, -14.5), (79.7, -15.5), (80.3, -13.0), (80.8, -11.0),
         (81.4, -12.5), (82, -12.0), (82.6, -13.0), (83.2, -12.0), (83.6, -19.5), (84.3, -17.0), (84.7, -21.5),
         (85.3, -16.0), (85.8, -35.0), (86.5, -11.0), (87, -10.0), (87.5, -7.0), (88, -5.0), (88.4, -6.5),
         (88.8, -5.0), (89.3, 5.0)]
h_mean = [(0, -19.7), (2, -19.9), (4, -20.5), (6, -21.5), (8, -22.0), (10, -21.5), (11, -21.8), (13, -23.5),
          (15, -25.0), (16.5, -26.0), (18, -28.0), (19, -29.5), (20, -31.5), (21, -32.5), (22, -32.0),
          (23, -31.0), (24, -30.0), (25, -29.0), (26, -27.5), (27, -27.0), (28, -26.8), (29, -26.5),
          (30, -26.3), (31, -27.0), (32, -28.0), (33, -29.0), (34, -31.5), (35, -36.0), (35.7, -46.0),
          (36.3, -44.0), (37, -35.0), (38, -30.0), (39, -28.0), (40, -27.0), (41, -26.5), (42, -26.8),
          (43, -27.0), (44, -27.5), (45, -28.0), (46, -28.5), (47, -29.0), (48, -27.0), (49, -24.5),
          (50, -22.5), (51, -21.0), (52, -19.5), (53, -19.0), (54, -18.5), (55, -18.7), (56, -19.5),
          (57, -20.5), (58, -22.5), (59, -23.3), (60, -21.5), (61, -19.5), (62, -17.0), (63, -15.5),
          (64, -14.7), (65, -14.5), (66, -14.7), (67, -15.5), (68, -17.0), (69, -18.5), (70, -19.5),
          (71, -17.5), (72, -16.0), (73, -15.5), (74, -16.0), (75, -17.5), (76, -18.5), (77, -19.5),
          (78, -17.5), (79, -15.0), (80, -12.5), (81, -11.5), (82, -12.0), (83, -12.5), (84, -17.0),
          (84.7, -22.5), (85.3, -20.0), (85.8, -27.0), (86.5, -13.0), (87, -12.0), (87.5, -7.5), (88, -5.5),
          (88.4, -6.5), (88.8, -5.0), (89.3, 5.0)]
h_hi = [-16.8, -17.0, -17.2, -18.0, -19.5, -20.5, -21.0, -21.0, -20.5, -20.0,
        -19.5, -20.0, -21.5, -23.5, -24.0, -23.5, -23.5, -24.5, -26.5, -28.0,
        -29.0, -28.5, -29.0, -28.0, -27.5, -27.0, -25.5, -25.3, -25.5, -24.5,
        -24.5, -25.5, -26.5, -27.5, -30.0, -33.0, -37.0, -33.0, -29.0, -27.0,
        -25.5, -24.5, -24.0, -24.0, -24.5, -25.0, -26.5, -27.5, -26.0, -23.0,
        -21.0, -19.5, -18.5, -17.5, -17.2, -17.5, -18.5, -19.5, -21.0, -22.0,
        -20.0, -18.0, -16.0, -14.5, -14.0, -13.8, -14.0, -14.5, -16.0, -17.0,
        -17.5, -16.0, -15.0, -13.8, -14.5, -16.0, -17.0, -17.5, -16.0, -13.5,
        -11.0, -10.5, -11.0, -11.5, -15.5, -15.5, -15.5, -9.0, -4.5, 3.0,
        5.5]
h_lo = [-26.5, -25.5, -25.0, -25.5, -26.0, -25.5, -25.5, -25.0, -24.5, -25.0,
        -25.5, -26.5, -27.0, -27.0, -26.0, -26.5, -27.0, -28.5, -30.5, -32.0,
        -37.5, -39.5, -43.5, -37.0, -32.5, -30.5, -29.5, -30.0, -30.0, -28.5,
        -29.0, -30.5, -32.0, -32.0, -37.0, -46.5, -56.0, -40.0, -33.0, -30.0,
        -28.5, -28.0, -28.5, -29.0, -29.0, -29.5, -30.5, -31.5, -29.0, -26.0,
        -24.0, -22.0, -21.0, -20.5, -20.0, -20.5, -21.5, -22.5, -24.5, -25.5,
        -23.0, -20.5, -18.0, -16.5, -15.5, -15.0, -15.5, -16.5, -18.5, -20.5,
        -21.5, -19.0, -17.5, -16.5, -17.0, -19.0, -20.5, -23.5, -21.0, -17.0,
        -15.0, -13.0, -13.5, -14.0, -24.0, -24.5, -39.5, -13.0, -7.0, -7.0,
        4.0]

panels = [
    ('(a)', a_mid, a_mean, a_lo, a_hi),
    ('(b)', b_mid, b_mean, b_lo, b_hi),
    ('(c)', c_mid, c_mean, c_lo, c_hi),
    ('(d)', d_mid, d_mean, d_lo, d_hi),
    ('(e)', e_mid, e_mean, e_lo, e_hi),
    ('(f)', f_mid, f_mean, f_lo, f_hi),
    ('(g)', g_mid, g_mean, g_lo, g_hi),
    ('(h)', h_mid, h_mean, h_lo, h_hi),
]

# axes boxes on the page, pixels: left, top, width, height
boxes = [(43, 9, 400, 328), (488, 7, 403, 330),
         (42, 402, 401, 328), (485, 404, 402, 330),
         (41, 799, 402, 328), (487, 799, 401, 328),
         (43, 1195, 401, 329), (486, 1194, 401, 330)]
# legend upper-left corner, axes fraction
legend_at = [(0.447, 0.921), (0.43, 0.933), (0.424, 0.933), (0.455, 0.958),
             (0.455, 0.93), (0.46, 0.966), (0.466, 0.912), (0.417, 0.927)]
caption_y = [383, 383, 777, 777, 1173, 1173, 1569, 1569]

W, H = 899, 1587
fig = plt.figure(figsize=(W / 100, H / 100), dpi=100)

GREEN = '#2dff2d'
FRAME = '#8a8a8a'

for i, (name, mid, mean, lo, hi) in enumerate(panels):
    assert len(lo) == 91 and len(hi) == 91, name
    l, t, w, h = boxes[i]
    ax = fig.add_axes([l / W, 1 - (t + h) / H, w / W, h / H])

    mid_t, mid_v = zip(*mid)
    mean_t, mean_v = zip(*mean)

    # min:max error bars
    ax.fill_between(theta_bars, lo, hi, step='mid', color='#d2ffd2', lw=0, zorder=1)
    ax.vlines(theta_bars, lo, hi, color=GREEN, lw=0.7, alpha=0.75, zorder=2)
    ax.plot(theta_bars, lo, ls='none', marker='_', ms=6, mew=0.8, color=GREEN, zorder=2)
    ax.plot(theta_bars, hi, ls='none', marker='_', ms=6, mew=0.8, color=GREEN, zorder=2)

    mean_z = 1.5 if i == 0 else 3
    mean_c = '#4f7fe0' if i == 0 else '#0000ff'
    ax.plot(mean_t, mean_v, color=mean_c, lw=1.1, zorder=mean_z)
    ax.plot(mid_t, mid_v, color='#ff0000', lw=1.2, zorder=4)

    ax.set_xlim(0, 90)
    ax.set_ylim(-60, 10)
    ax.set_xticks(range(0, 91, 10))
    ax.set_yticks(range(-60, 11, 10))
    ax.tick_params(direction='in', top=True, right=True, length=3.5, width=0.7,
                   color=FRAME, labelsize=9, labelcolor='#222222')
    ax.tick_params(axis='x', pad=3)
    ax.tick_params(axis='y', pad=2)
    for sp in ax.spines.values():
        sp.set_color(FRAME)
        sp.set_linewidth(0.8)

    ax.set_xlabel('\u03b8 (degrees)', fontsize=8, color='#333333', labelpad=1)
    ax.set_ylabel('RCS (dBsm)', fontsize=8, color='#333333', labelpad=1)

    handles = [Line2D([], [], color=GREEN, lw=1.0),
               Line2D([], [], color=mean_c, lw=1.2),
               Line2D([], [], color='#ff0000', lw=1.2)]
    leg = ax.legend(handles, ['Min:Max', 'Mean', 'Mid-band'], loc='upper left',
                    bbox_to_anchor=legend_at[i], borderaxespad=0, fontsize=8,
                    handlelength=2.2, handletextpad=0.2, labelspacing=0.25,
                    borderpad=0.3, fancybox=False, framealpha=1)
    leg.get_frame().set_edgecolor('#555555')
    leg.get_frame().set_linewidth(0.8)
    for txt in leg.get_texts():
        txt.set_color('#222222')

    fig.text((l + w / 2) / W, 1 - caption_y[i] / H, name, ha='center', va='center',
             fontsize=15, family=['Liberation Serif', 'DejaVu Serif'])

fig.savefig('out.png', dpi=100)
